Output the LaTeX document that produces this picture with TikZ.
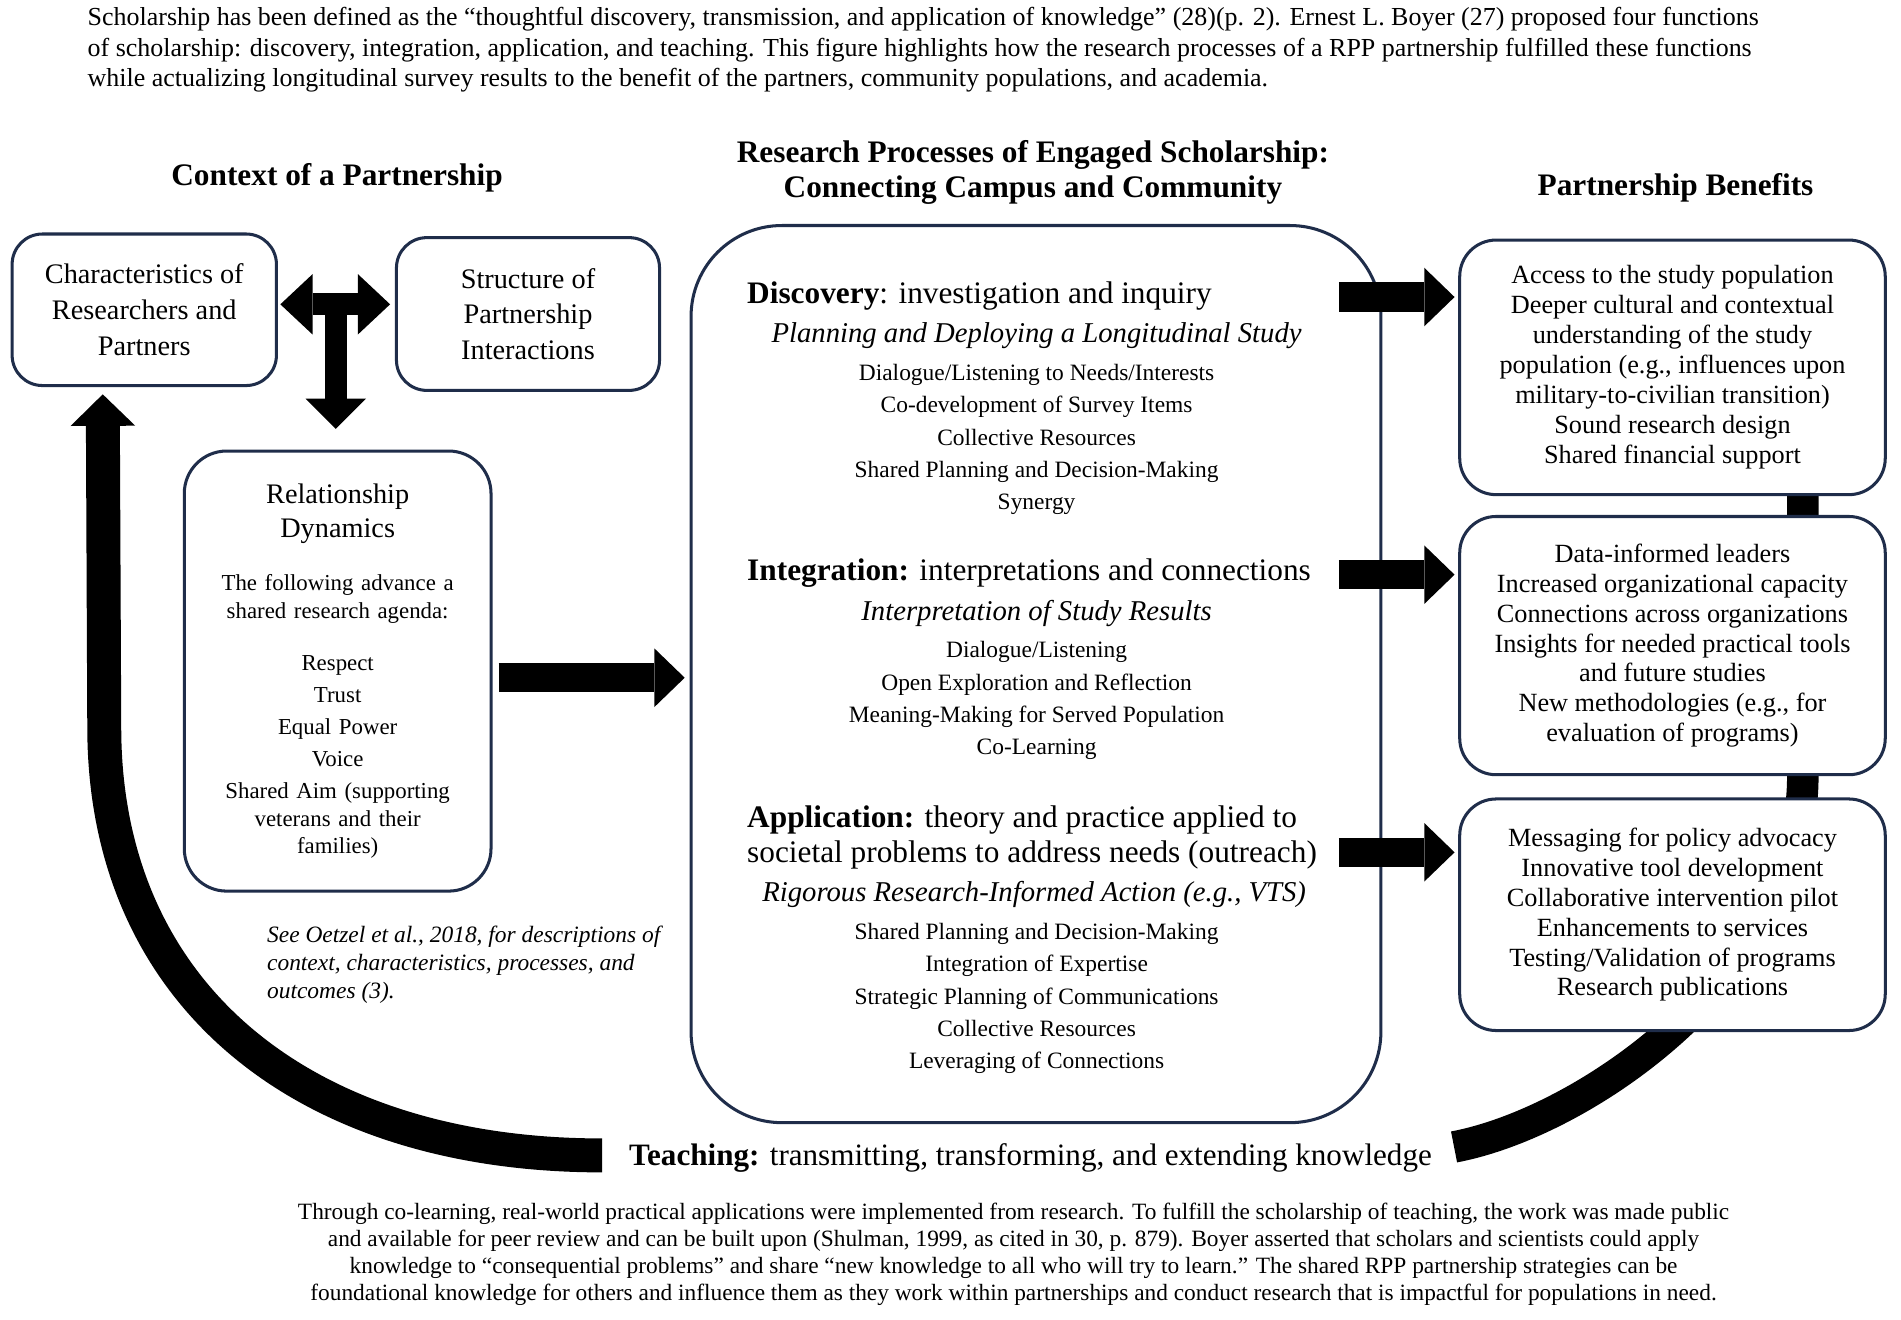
\documentclass[tikz,border=0pt]{standalone}
\usepackage{fontspec}
\setmainfont{Liberation Serif}
\usetikzlibrary{arrows.meta}
\usetikzlibrary{calc}

\definecolor{boxblue}{RGB}{31,45,74}

\tikzset{
  box/.style={draw=boxblue, line width=1.5pt, rounded corners=15pt, fill=white, align=center, inner sep=0pt},
  benbox/.style={box, rounded corners=18pt, minimum width=210.6pt, font=\fontsize{13}{14.8}\selectfont},
  heading/.style={font=\fontsize{15.5}{17.4}\selectfont\bfseries, align=center, inner sep=0pt},
  lead/.style={font=\fontsize{15.5}{17.4}\selectfont, align=left, anchor=west, inner sep=0pt},
  sub/.style={font=\fontsize{14.2}{17}\selectfont\itshape, inner sep=0pt},
  items/.style={font=\fontsize{11.6}{16}\selectfont, align=center, inner sep=0pt},
  blockarrow/.style={line width=14.4pt, -{Triangle[length=15pt,width=29pt,line width=0pt]}},
  tarrowh/.style={line width=10.8pt, {Triangle[length=16pt,width=30pt,line width=0pt]}-{Triangle[length=16pt,width=30pt,line width=0pt]}},
  tarrowv/.style={line width=11pt, -{Triangle[length=15pt,width=30pt,line width=0pt]}},
  band/.style={line width=15.6pt},
  bandarrow/.style={line width=16.8pt, -{Triangle[length=15.6pt,width=32pt,line width=0pt]}},
}

\begin{document}
\begin{tikzpicture}[x=0.6pt, y=-0.6pt]
  \useasboundingbox (0,0) rectangle (1568,1088);

  \node[font=\fontsize{12.85}{15.3}\selectfont, align=left, anchor=west, inner sep=0pt] (cap) at (72,41) {Scholarship has been defined as the “thoughtful discovery, transmission, and application of knowledge” (28)(p. 2). Ernest L. Boyer (27) proposed four functions\\of scholarship: discovery, integration, application, and teaching. This figure highlights how the research processes of a RPP partnership fulfilled these functions\\while actualizing longitudinal survey results to the benefit of the partners, community populations, and academia.};

  \node[heading] (ctxh) at (278,147) {Context of a Partnership};
  \node[heading] (proch) at (852,142.5) {Research Processes of Engaged Scholarship:\\Connecting Campus and Community};
  \node[heading] (benh) at (1382,155) {Partnership Benefits};

  \node[font=\fontsize{15.4}{17.4}\selectfont, inner sep=0pt] (teach) at (850,955) {\textbf{Teaching:} transmitting, transforming, and extending knowledge};

  % teaching loop behind the boxes
  \draw[band] ($(teach.east)+(18,-9)$) .. controls (1310,925) and (1487,800) .. (1487,640) -- (1487,380);

  \node[box, minimum width=130.8pt, minimum height=75pt, font=\fontsize{14}{17.7}\selectfont] (char) at (119,255.5) {Characteristics of\\Researchers and\\Partners};
  \node[box, minimum width=130.2pt, minimum height=75.6pt, font=\fontsize{14}{17.7}\selectfont] (struct) at (435.5,259) {Structure of\\Partnership\\Interactions};
  \node[box, rounded corners=21pt, text width=145pt, minimum width=151.8pt, minimum height=217.8pt, font=\fontsize{11.3}{13.5}\selectfont] (rel) at (278.5,553.5) {{\fontsize{14}{16.8}\selectfont Relationship\\Dynamics\par}\vspace{12.9pt}The following advance a\\shared research agenda:\par\vspace{12.3pt}Respect\\[2.4pt]Trust\\[2.4pt]Equal Power\\[2.4pt]Voice\\[2.4pt]Shared Aim (supporting\\veterans and their\\families)};

  \node[font=\fontsize{11.6}{13.8}\selectfont\itshape, align=left, anchor=west, inner sep=0pt] (note) at (220,796) {See Oetzel et al., 2018, for descriptions of\\context, characteristics, processes, and\\outcomes (3).};

  \draw[bandarrow] ($(teach.west)+(-22,-2)$) .. controls (250,953) and (86,820) .. (86,600) -- ($(char.south west)+(76,6)$);

  \node[box, rounded corners=45pt, minimum width=341.4pt, minimum height=444pt] (proc) at (854.5,556) {};

  \node[lead] (disch) at (616,244) {\textbf{Discovery}: investigation and inquiry};
  \node[sub] (discs) at (855,277) {Planning and Deploying a Longitudinal Study};
  \node[items] (disci) at (855,362.5) {Dialogue/Listening to Needs/Interests\\Co-development of Survey Items\\Collective Resources\\Shared Planning and Decision-Making\\Synergy};

  \node[lead] (inth) at (616,473) {\textbf{Integration:} interpretations and connections};
  \node[sub] (ints) at (855,506) {Interpretation of Study Results};
  \node[items] (inti) at (855,578) {Dialogue/Listening\\Open Exploration and Reflection\\Meaning-Making for Served Population\\Co-Learning};

  \node[lead] (apph) at (616,690.5) {\textbf{Application:} theory and practice applied to\\societal problems to address needs (outreach)};
  \node[sub] (apps) at (853,738) {Rigorous Research-Informed Action (e.g., VTS)};
  \node[items] (appi) at (855,823.5) {Shared Planning and Decision-Making\\Integration of Expertise\\Strategic Planning of Communications\\Collective Resources\\Leveraging of Connections};

  \node[benbox, minimum height=126pt] (ben1) at (1379.5,303) {Access to the study population\\Deeper cultural and contextual\\understanding of the study\\population (e.g., influences upon\\military-to-civilian transition)\\Sound research design\\Shared financial support};
  \node[benbox, minimum height=127.8pt] (ben2) at (1379.5,532.5) {Data-informed leaders\\Increased organizational capacity\\Connections across organizations\\Insights for needed practical tools\\and future studies\\New methodologies (e.g., for\\evaluation of programs)};
  \node[benbox, minimum height=114.6pt] (ben3) at (1379.5,754.5) {Messaging for policy advocacy\\Innovative tool development\\Collaborative intervention pilot\\Enhancements to services\\Testing/Validation of programs\\Research publications};

  \coordinate (tj) at (277,251);
  \draw[tarrowh] ($(char.east |- tj)+(2,0)$) -- ($(struct.west |- tj)+(-4,0)$);
  \draw[tarrowv] (tj) -- ($(rel.north)+(-1.5,-17)$);

  \draw[blockarrow] ($(rel.east)+(5,5.5)$) -- ($(proc.west)+(-4,3)$);
  \draw[blockarrow] ($(proc.east |- disch)+(-36,1)$) -- ($(ben1.west |- disch)+(-3,1)$);
  \draw[blockarrow] ($(proc.east |- inth)+(-36,1)$) -- ($(ben2.west |- inth)+(-3,1)$);
  \draw[blockarrow] ($(proc.east |- apph)+(-36,12.5)$) -- ($(ben3.west |- apph)+(-3,12.5)$);

  \node[font=\fontsize{11.56}{13.4}\selectfont, align=center, inner sep=0pt] (foot) at (836,1034.5) {Through co-learning, real-world practical applications were implemented from research. To fulfill the scholarship of teaching, the work was made public\\and available for peer review and can be built upon (Shulman, 1999, as cited in 30, p. 879). Boyer asserted that scholars and scientists could apply\\knowledge to “consequential problems” and share “new knowledge to all who will try to learn.” The shared RPP partnership strategies can be\\foundational knowledge for others and influence them as they work within partnerships and conduct research that is impactful for populations in need.};
\end{tikzpicture}
\end{document}
